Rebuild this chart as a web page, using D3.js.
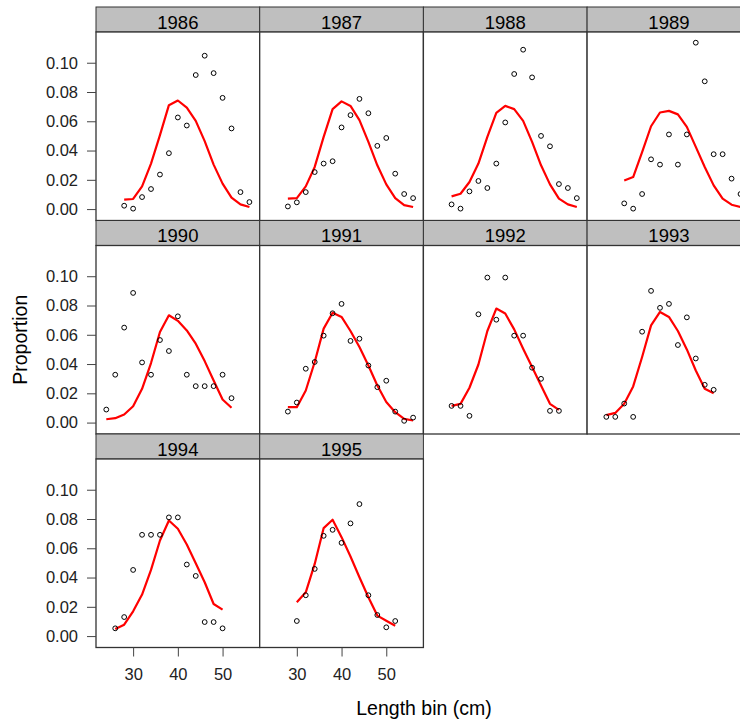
<!DOCTYPE html>
<html>
<head>
<meta charset="utf-8">
<script src="https://cdn.jsdelivr.net/npm/d3@7/dist/d3.min.js"></script>
<style>
  html, body { margin: 0; padding: 0; background: #fff; }
  svg { display: block; font-family: "Liberation Sans", Arial, sans-serif; }
</style>
</head>
<body>
<svg id="chart" width="740" height="723"></svg>
<script>
// ---- data ----
const years = [1986, 1987, 1988, 1989, 1990, 1991, 1992, 1993, 1994, 1995];
const firstBin = [28, 28, 28, 30, 24, 28, 28, 26, 26, 30];

const obs1986 = [0.0023, 0.0003, 0.0082, 0.0137, 0.0236, 0.0382, 0.0626, 0.0571, 0.0916, 0.1048, 0.0929, 0.0760, 0.0551, 0.0116, 0.0048];
const exp1986 = [0.0064, 0.0069, 0.0155, 0.0311, 0.0505, 0.0710, 0.0742, 0.0694, 0.0603, 0.0464, 0.0304, 0.0174, 0.0078, 0.0032, 0.0014];

const obs1987 = [0.0018, 0.0046, 0.0116, 0.0253, 0.0311, 0.0327, 0.0558, 0.0642, 0.0753, 0.0655, 0.0432, 0.0486, 0.0242, 0.0103, 0.0075];
const exp1987 = [0.0071, 0.0075, 0.0155, 0.0288, 0.0493, 0.0683, 0.0736, 0.0705, 0.0608, 0.0459, 0.0299, 0.0169, 0.0075, 0.0027, 0.0014];

const obs1988 = [0.0032, 0.0003, 0.0121, 0.0192, 0.0144, 0.0311, 0.0592, 0.0923, 0.1089, 0.0900, 0.0500, 0.0429, 0.0171, 0.0144, 0.0075];
const exp1988 = [0.0087, 0.0105, 0.0185, 0.0311, 0.0493, 0.0658, 0.0705, 0.0683, 0.0603, 0.0459, 0.0299, 0.0169, 0.0071, 0.0032, 0.0014];

const obs1989 = [0.0039, 0.0003, 0.0103, 0.0340, 0.0304, 0.0510, 0.0304, 0.0510, 0.1137, 0.0873, 0.0375, 0.0375, 0.0208, 0.0103];
const exp1989 = [0.0195, 0.0219, 0.0390, 0.0566, 0.0660, 0.0671, 0.0647, 0.0562, 0.0425, 0.0288, 0.0162, 0.0071, 0.0030, 0.0014];

const obs1990 = [0.0089, 0.0327, 0.0649, 0.0886, 0.0411, 0.0327, 0.0564, 0.0489, 0.0726, 0.0327, 0.0249, 0.0249, 0.0249, 0.0327, 0.0167];
const exp1990 = [0.0023, 0.0030, 0.0055, 0.0112, 0.0231, 0.0407, 0.0619, 0.0733, 0.0695, 0.0630, 0.0539, 0.0420, 0.0288, 0.0158, 0.0101];

const obs1991 = [0.0075, 0.0137, 0.0368, 0.0414, 0.0594, 0.0747, 0.0811, 0.0558, 0.0573, 0.0390, 0.0242, 0.0286, 0.0075, 0.0012, 0.0034];
const exp1991 = [0.0105, 0.0105, 0.0219, 0.0414, 0.0642, 0.0751, 0.0722, 0.0626, 0.0516, 0.0390, 0.0253, 0.0140, 0.0071, 0.0025, 0.0014];

const obs1992 = [0.0114, 0.0114, 0.0046, 0.0740, 0.0991, 0.0703, 0.0991, 0.0594, 0.0594, 0.0375, 0.0299, 0.0080, 0.0080];
const exp1992 = [0.0114, 0.0128, 0.0238, 0.0397, 0.0626, 0.0779, 0.0745, 0.0637, 0.0505, 0.0380, 0.0253, 0.0128, 0.0087];

const obs1993 = [0.0039, 0.0039, 0.0130, 0.0039, 0.0621, 0.0900, 0.0784, 0.0811, 0.0530, 0.0719, 0.0438, 0.0258, 0.0224];
const exp1993 = [0.0051, 0.0066, 0.0128, 0.0247, 0.0448, 0.0664, 0.0756, 0.0722, 0.0626, 0.0500, 0.0356, 0.0231, 0.0201];

const obs1994 = [0.0053, 0.0130, 0.0452, 0.0692, 0.0692, 0.0692, 0.0811, 0.0811, 0.0489, 0.0411, 0.0096, 0.0096, 0.0053];
const exp1994 = [0.0048, 0.0078, 0.0169, 0.0284, 0.0452, 0.0653, 0.0790, 0.0733, 0.0626, 0.0498, 0.0368, 0.0219, 0.0181];

const obs1995 = [0.0103, 0.0279, 0.0459, 0.0685, 0.0726, 0.0637, 0.0770, 0.0902, 0.0279, 0.0144, 0.0060, 0.0103];
const exp1995 = [0.0231, 0.0299, 0.0493, 0.0738, 0.0795, 0.0676, 0.0544, 0.0402, 0.0265, 0.0140, 0.0105, 0.0071];

const observed = [obs1986, obs1987, obs1988, obs1989, obs1990, obs1991, obs1992, obs1993, obs1994, obs1995];
const expected = [exp1986, exp1987, exp1988, exp1989, exp1990, exp1991, exp1992, exp1993, exp1994, exp1995];

const yTicks = [0.00, 0.02, 0.04, 0.06, 0.08, 0.10];
const xTicks = [30, 40, 50];

// ---- layout ----
const svg = d3.select("#chart");
const leftM = 96, topM = 7, colW = 163.7, stripH = 25, panelH = 188.5, nCols = 4;
const rowStride = stripH + panelH;

const x = d3.scaleLinear().domain([21.7, 58.3]).range([0, colW]);
const y = d3.scaleLinear().domain([-0.0078, 0.121]).range([panelH, 0]);

const panels = years.map((yr, i) => ({
  year: yr,
  col: i % nCols,
  row: Math.floor(i / nCols),
  pts: observed[i].map((v, j) => ({ bin: firstBin[i] + 2 * j, obs: v, exp: expected[i][j] }))
}));

const nRows = d3.max(panels, p => p.row) + 1;

panels.forEach(p => {
  const gx = leftM + p.col * colW;
  const gy = topM + p.row * rowStride;
  const g = svg.append("g").attr("transform", `translate(${gx},${gy})`);

  // strip
  g.append("rect").attr("x", 0).attr("y", 0).attr("width", colW).attr("height", stripH)
    .attr("fill", "#bfbfbf").attr("stroke", "#333").attr("stroke-width", 1);
  g.append("text").attr("x", colW / 2).attr("y", stripH - 3.5)
    .attr("text-anchor", "middle").attr("font-size", 18.5).attr("fill", "#000").text(p.year);

  const pg = g.append("g").attr("transform", `translate(0,${stripH})`);
  pg.append("rect").attr("width", colW).attr("height", panelH)
    .attr("fill", "#fff").attr("stroke", "#333").attr("stroke-width", 1.3);

  const clip = "clip" + p.year;
  pg.append("clipPath").attr("id", clip).append("rect").attr("width", colW).attr("height", panelH);
  const inner = pg.append("g").attr("clip-path", `url(#${clip})`);

  inner.append("path").datum(p.pts)
    .attr("d", d3.line().x(d => x(d.bin)).y(d => y(d.exp)))
    .attr("fill", "none").attr("stroke", "#ff0000").attr("stroke-width", 2.2)
    .attr("stroke-linejoin", "round");

  inner.selectAll("circle").data(p.pts).join("circle")
    .attr("cx", d => x(d.bin)).attr("cy", d => y(d.obs)).attr("r", 2.4)
    .attr("fill", "none").attr("stroke", "#000").attr("stroke-width", 1);
});

// y axes (left of each row)
for (let r = 0; r < nRows; r++) {
  const ay = svg.append("g").attr("transform", `translate(${leftM},${topM + r * rowStride + stripH})`);
  const axis = d3.axisLeft(y).tickValues(yTicks).tickFormat(d3.format(".2f")).tickSize(9).tickPadding(9);
  ay.call(axis);
  ay.select(".domain").remove();
  ay.selectAll(".tick line").attr("stroke", "#444");
  ay.selectAll(".tick text").attr("font-size", 16.5).attr("fill", "#222")
    .attr("font-family", "Liberation Sans, Arial, sans-serif");
}

// x axes (below bottom panel in each column)
d3.range(nCols).forEach(c => {
  const colPanels = panels.filter(p => p.col === c);
  if (!colPanels.length) return;
  const bottomRow = d3.max(colPanels, p => p.row);
  if (bottomRow !== nRows - 1) return;
  const ax = svg.append("g").attr("transform",
    `translate(${leftM + c * colW},${topM + bottomRow * rowStride + stripH + panelH})`);
  ax.call(d3.axisBottom(x).tickValues(xTicks).tickSize(9).tickPadding(12));
  ax.select(".domain").remove();
  ax.selectAll(".tick line").attr("stroke", "#444");
  ax.selectAll(".tick text").attr("font-size", 16.5).attr("fill", "#222")
    .attr("font-family", "Liberation Sans, Arial, sans-serif");
});

// axis titles
svg.append("text").attr("x", 424).attr("y", 715).attr("text-anchor", "middle")
  .attr("font-size", 19.5).attr("fill", "#000").text("Length bin (cm)");
svg.append("text").attr("transform", `translate(27,${(topM + stripH + topM + (nRows - 1) * rowStride + stripH + panelH) / 2}) rotate(-90)`)
  .attr("text-anchor", "middle").attr("font-size", 19.5).attr("fill", "#000").text("Proportion");
</script>
</body>
</html>
